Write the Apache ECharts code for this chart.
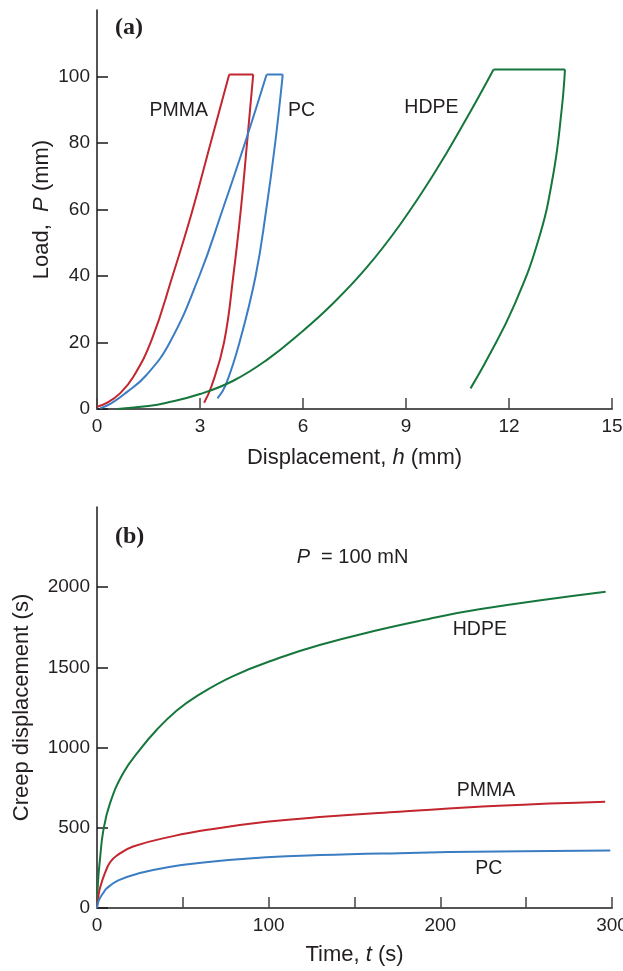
<!DOCTYPE html>
<html><head><meta charset="utf-8">
<script src="https://cdn.jsdelivr.net/npm/echarts@6/dist/echarts.min.js"></script>
<style>html,body{margin:0;padding:0;background:#fff}#c{width:623px;height:971px}</style>
</head><body><div id="c"></div>
<script>
// ---------- Panel (a): load vs displacement ----------
const hTicks = [0, 3, 6, 9, 12, 15];
const pTicks = [0, 20, 40, 60, 80, 100, 120];

const pmmaLoadH = [0, 0.3, 0.67, 1.06, 1.6, 2.20, 2.76, 3.31, 3.85];
const pmmaLoadP = [0.7, 1.9, 4.7, 9.7, 21, 40, 59, 80, 100.6];
const pmmaUnloadH = [4.55, 4.37, 4.19, 3.97, 3.70, 3.34, 3.12];
const pmmaUnloadP = [100.6, 80, 60, 40, 20, 7, 1.9];

const pcLoadH = [0.09, 0.4, 0.86, 1.42, 2.12, 2.98, 3.66, 4.31, 4.94];
const pcLoadP = [0.2, 1.6, 5, 10, 20, 40, 60, 80, 100.6];
const pcUnloadH = [5.41, 5.19, 4.93, 4.62, 4.15, 3.74, 3.51];
const pcUnloadP = [100.6, 80, 60, 40, 20, 7, 3.2];

const hdpeLoadH = [0.59, 1.5, 2.0, 3.0, 3.97, 4.94, 5.91, 6.88, 7.85, 8.83, 9.80, 10.77, 11.55];
const hdpeLoadP = [0, 0.9, 1.8, 4.5, 8.5, 14.7, 22.7, 31.8, 42.5, 55.5, 70.5, 87.5, 102.1];
const hdpeUnloadH = [13.63, 13.54, 13.29, 12.85, 12.13, 11.40, 10.88];
const hdpeUnloadP = [102.1, 90.6, 70.6, 50.6, 30.7, 15.7, 6.2];

// ---------- Panel (b): creep displacement vs time ----------
const tTicks = [0, 50, 100, 150, 200, 250, 300];
const cTicks = [0, 500, 1000, 1500, 2000, 2500];

const hdpeT = [0, 0.6, 1.74, 3.7, 7.6, 15.3, 25, 34.7, 46.3, 57.9, 79.3, 106.4, 129.7, 164.5, 187.8, 222.7, 296.3];
const hdpeC = [0, 165, 305, 485, 654, 842, 988, 1110, 1230, 1320, 1446, 1560, 1640, 1735, 1790, 1862, 1971];

const pmmaT = [0, 0.6, 1.74, 4.6, 7.6, 11.4, 21, 44.4, 65.7, 98.6, 129.7, 176, 234, 296];
const pmmaC = [0, 60, 125, 217, 285, 326, 383, 448, 490, 537, 567, 600, 637, 662];

const pcT = [0, 0.5, 1.7, 3.7, 5.6, 12.4, 25, 42, 62, 98.6, 129.7, 176, 234, 299];
const pcC = [0, 30, 62, 95, 122, 172, 218, 256, 284, 316, 330, 342, 353, 358];

// ---------- annotation labels (data coordinates) ----------
const labelsA = [
  {text: 'PMMA', at: [2.38, 89.6]},
  {text: 'PC', at: [5.96, 89.6]},
  {text: 'HDPE', at: [9.74, 90.5]}
];
const labelsB = [
  {text: 'HDPE', at: [223, 1738]},
  {text: 'PMMA', at: [226.6, 731]},
  {text: 'PC', at: [228.2, 244]}
];
const loadNote = {text: '{i|P}  = 100 mN', at: [116.3, 2188]};

// ---------- styles ----------
const RED = '#c3262e', BLUE = '#3b7dc3', GREEN = '#16773d';
const SANS = '"Liberation Sans", Arial, Helvetica, sans-serif';
const TXT = '#231f20';

const zip = (a, b) => a.map((v, i) => [v, b[i]]);

function lineSeries(x, y, color, g, smooth) {
  return {
    type: 'line', xAxisIndex: g, yAxisIndex: g,
    data: zip(x, y), showSymbol: false, symbol: 'none',
    smooth: smooth,
    lineStyle: {color: color, width: 2}, silent: true, z: 3
  };
}
function holdSeries(loadH, loadP, unH, unP, color) {
  return {
    type: 'line', xAxisIndex: 0, yAxisIndex: 0,
    data: [[loadH[loadH.length - 1], loadP[loadP.length - 1]], [unH[0], unP[0]]],
    showSymbol: false, symbol: 'none', lineStyle: {color: color, width: 2}, silent: true
  };
}

function xAxis(g, ticks, name, gap, fmt) {
  return {
    type: 'value', gridIndex: g, min: ticks[0], max: ticks[ticks.length - 1],
    interval: ticks[1] - ticks[0],
    axisLine: {show: true, onZero: false, lineStyle: {color: '#555', width: 2}},
    axisTick: {show: true, inside: true, length: 11, lineStyle: {color: '#444', width: 1.5}},
    splitLine: {show: false},
    axisLabel: {color: TXT, fontSize: 19, fontFamily: SANS, margin: 8, formatter: fmt,
      showMinLabel: true, showMaxLabel: true},
    name: name, nameLocation: 'middle', nameGap: gap, nameMoveOverlap: false,
    nameTextStyle: {color: TXT, fontSize: 22, fontFamily: SANS,
      rich: {i: {fontStyle: 'italic', fontSize: 22, fontFamily: SANS, color: TXT}}}
  };
}
function yAxis(g, ticks, name, gap) {
  return {
    type: 'value', gridIndex: g, min: ticks[0], max: ticks[ticks.length - 1],
    interval: ticks[1] - ticks[0],
    axisLine: {show: true, onZero: false, lineStyle: {color: '#1a1a1a', width: 1.5}},
    axisTick: {show: true, inside: true, length: 11, lineStyle: {color: '#1a1a1a', width: 1.5}},
    splitLine: {show: false},
    axisLabel: {color: TXT, fontSize: 19, fontFamily: SANS, margin: 7, showMaxLabel: false,
      formatter: v => String(v)},
    name: name, nameLocation: 'middle', nameGap: gap, nameRotate: 90, nameMoveOverlap: false,
    nameTextStyle: {color: TXT, fontSize: 22, fontFamily: SANS,
      rich: {i: {fontStyle: 'italic', fontSize: 22, fontFamily: SANS, color: TXT}}}
  };
}

const chart = echarts.init(document.getElementById('c'), null, {renderer: 'canvas'});
chart.setOption({
  animation: false,
  backgroundColor: '#fff',
  grid: [
    {left: 97, top: 10, width: 515, height: 399, containLabel: false, outerBoundsMode: 'none'},
    {left: 97, top: 507, width: 515, height: 401, containLabel: false, outerBoundsMode: 'none'}
  ],
  xAxis: [
    xAxis(0, hTicks, 'Displacement, {i|h} (mm)', 38, v => String(v)),
    xAxis(1, tTicks, 'Time, {i|t} (s)', 36, v => (v % 100 === 0 ? String(v) : ''))
  ],
  yAxis: [
    yAxis(0, pTicks, 'Load,  {i|P} (mm)', 44),
    yAxis(1, cTicks, 'Creep displacement (s)', 64)
  ],
  series: [
    lineSeries(pmmaLoadH, pmmaLoadP, RED, 0, 0.45),
    holdSeries(pmmaLoadH, pmmaLoadP, pmmaUnloadH, pmmaUnloadP, RED),
    lineSeries(pmmaUnloadH, pmmaUnloadP, RED, 0, 0.45),
    lineSeries(pcLoadH, pcLoadP, BLUE, 0, 0.45),
    holdSeries(pcLoadH, pcLoadP, pcUnloadH, pcUnloadP, BLUE),
    lineSeries(pcUnloadH, pcUnloadP, BLUE, 0, 0.45),
    lineSeries(hdpeLoadH, hdpeLoadP, GREEN, 0, 0.45),
    holdSeries(hdpeLoadH, hdpeLoadP, hdpeUnloadH, hdpeUnloadP, GREEN),
    lineSeries(hdpeUnloadH, hdpeUnloadP, GREEN, 0, 0.45),
    lineSeries(hdpeT, hdpeC, GREEN, 1, 0.45),
    lineSeries(pmmaT, pmmaC, RED, 1, 0.45),
    lineSeries(pcT, pcC, BLUE, 1, 0.45)
  ]
});

function txt(text, p, opts) {
  return {
    type: 'text', x: p[0], y: p[1], silent: true, z: 10,
    style: Object.assign({text: text, fill: TXT, font: '19.5px ' + SANS,
      align: 'center', verticalAlign: 'middle'}, opts || {})
  };
}
const graphics = [];
labelsA.forEach(l => graphics.push(txt(l.text, chart.convertToPixel({xAxisIndex: 0, yAxisIndex: 0}, l.at))));
labelsB.forEach(l => graphics.push(txt(l.text, chart.convertToPixel({xAxisIndex: 1, yAxisIndex: 1}, l.at))));
const np = chart.convertToPixel({xAxisIndex: 1, yAxisIndex: 1}, loadNote.at);
graphics.push(txt(loadNote.text, np, {align: 'left', font: '20px ' + SANS,
  rich: {i: {fontStyle: 'italic', fontSize: 20, fontFamily: SANS, fill: TXT}}}));
// panel letters
const ga = chart.convertToPixel({xAxisIndex: 0, yAxisIndex: 0}, [0, 120]);
const gb = chart.convertToPixel({xAxisIndex: 1, yAxisIndex: 1}, [0, 2500]);
graphics.push(txt('(a)', [ga[0] + 18, ga[1] + 18], {align: 'left', font: 'bold 24px "Liberation Serif", "Times New Roman", serif'}));
graphics.push(txt('(b)', [gb[0] + 18, gb[1] + 30], {align: 'left', font: 'bold 24px "Liberation Serif", "Times New Roman", serif'}));
chart.setOption({graphic: graphics});
</script>
</body></html>
